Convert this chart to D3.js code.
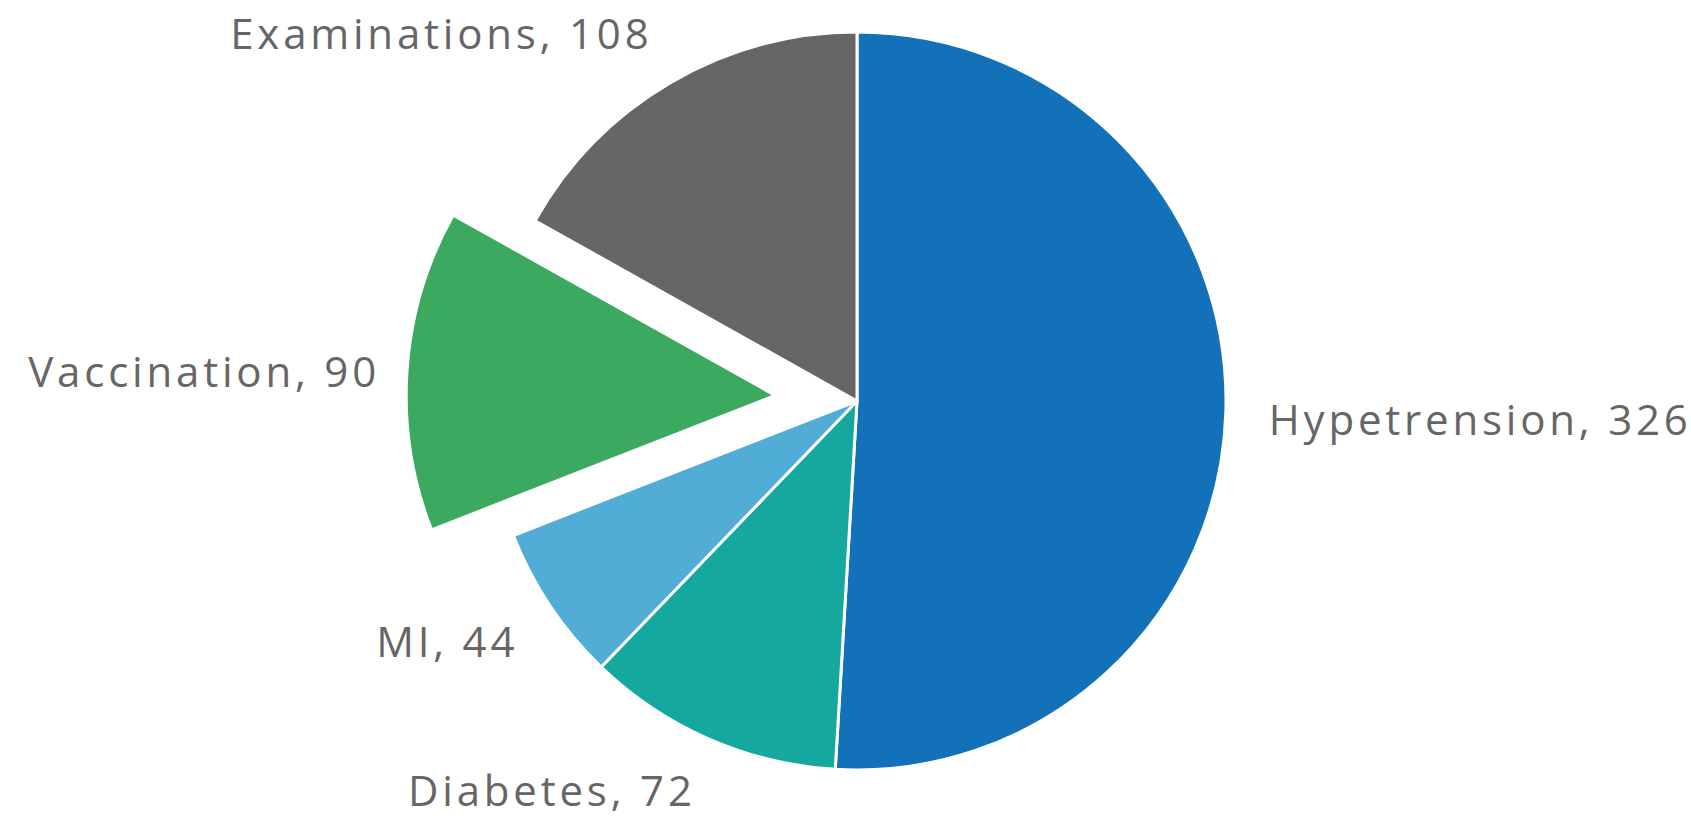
<!DOCTYPE html>
<html><head><meta charset="utf-8">
<script src="https://cdn.jsdelivr.net/npm/d3@7"></script>
<style>html,body{margin:0;padding:0;background:#fff;overflow:hidden}</style>
</head><body>
<svg id="chart" width="1691" height="822"></svg>
<script>
const categories = ["Hypetrension", "Diabetes", "MI", "Vaccination", "Examinations"];
const values = [326, 72, 44, 90, 108];
const colors = ["#1271b8", "#14a89e", "#52add6", "#3ba960", "#666666"];
const exploded = [false, false, false, true, false];

const W = 1691, H = 822;
const cx = 857, cy = 401, r = 369, explodeDist = 82, labelR = 412;
const fontSize = 42, capH = 28, spacing = 3.8;

const svg = d3.select("#chart");
const data = categories.map((c, i) => ({ name: c, value: values[i], color: colors[i], exploded: exploded[i] }));
const pie = d3.pie().sort(null).value(d => d.value);
const arcs = pie(data);
const arc = d3.arc().innerRadius(0).outerRadius(r);

const g = svg.append("g").attr("transform", `translate(${cx},${cy})`);

function offset(d) {
  if (!d.data.exploded) return [0, 0];
  const a = (d.startAngle + d.endAngle) / 2;
  return [explodeDist * Math.sin(a), -explodeDist * Math.cos(a)];
}

g.selectAll("path.slice").data(arcs).join("path")
  .attr("class", "slice")
  .attr("d", arc)
  .attr("fill", d => d.data.color)
  .attr("stroke", "#fff")
  .attr("stroke-width", 3)
  .attr("stroke-linejoin", "round")
  .attr("transform", d => { const o = offset(d); return `translate(${o[0]},${o[1]})`; });

g.selectAll("text.label").data(arcs).join("text")
  .attr("class", "label")
  .each(function(d) {
    const a = (d.startAngle + d.endAngle) / 2;
    const o = offset(d);
    const s = Math.sin(a), c = Math.cos(a);
    let px = o[0] + labelR * s + (d.data.exploded ? 12 * Math.sign(-s) : 0);
    if (s < 0) px += spacing;
    const py = o[1] - labelR * c;
    d3.select(this)
      .attr("x", px)
      .attr("y", py + (capH / 2) * (1 - c) + 7 * (1 - c * c))
      .attr("text-anchor", s >= 0 ? "start" : "end");
  })
  .attr("font-family", "'Open Sans', sans-serif")
  .attr("font-size", fontSize)
  .attr("letter-spacing", spacing)
  .attr("fill", "#666666")
  .text(d => `${d.data.name}, ${d.data.value}`);
</script>
</body></html>
